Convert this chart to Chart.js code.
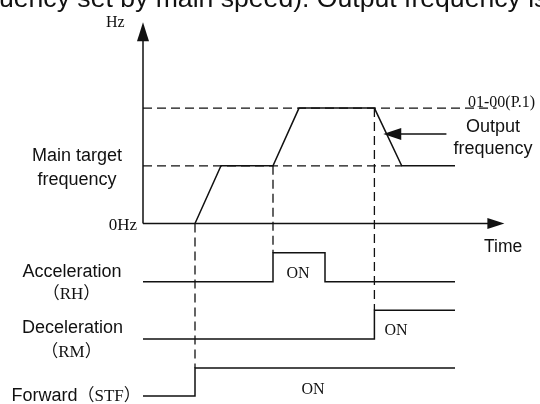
<!DOCTYPE html>
<html>
<head>
<meta charset="utf-8">
<script src="https://cdn.jsdelivr.net/npm/chart.js@4.4.0/dist/chart.umd.min.js"></script>
<style>
  html, body { margin: 0; padding: 0; background: #fff; }
  #wrap { width: 540px; height: 404px; }
</style>
</head>
<body>
<div id="wrap"><canvas id="chart" width="540" height="404"></canvas></div>
<script>
// time in arbitrary units; frequency levels: 0 = 0Hz, 1 = main target, 2 = 01-00(P.1)
const freqTime  = [2, 3, 5, 6, 8.9, 9.95, 12];
const freqLevel = [0, 1, 1, 2, 2, 1, 1];

// digital inputs, 0 = off, 1 = on
const accTime  = [0, 5, 5, 7, 7, 12];
const accLevel = [0, 0, 1, 1, 0, 0];

const decTime  = [0, 8.9, 8.9, 12];
const decLevel = [0, 0, 1, 1];

const fwdTime  = [0, 2, 2, 12];
const fwdLevel = [0, 0, 1, 1];

// dashed reference levels and where they stop
const refLevels = [2, 1];
const refEnds   = [13.6, 9.95];

const W = 540, H = 404;
const BLACK = '#111';
const SANS = "'Liberation Sans', Arial, sans-serif";
const SERIF = "'Liberation Serif', 'Times New Roman', 'Noto Sans CJK SC', serif";

function pts(xs, ys) {
    return xs.map((x, i) => ({ x: x, y: ys[i] }));
}

// scale range so that value 0 sits at pix0 and value 1 at pix1
function rangeFor(pix0, pix1, size) {
    const unit = pix0 - pix1;
    return { min: -(size - pix0) / unit, max: pix0 / unit };
}
function xRange(pix0, unit, size) {
    return { min: -pix0 / unit, max: (size - pix0) / unit };
}

const rx = xRange(143, 26, W);
const rF = rangeFor(223.5, 165.8, H);
const rA = rangeFor(281.7, 252.7, H);
const rD = rangeFor(339, 310.3, H);
const rS = rangeFor(396, 368, H);

function hiddenY(r) {
    return { type: 'linear', display: false, min: r.min, max: r.max };
}

function lineSet(data, axis, dashed) {
    return {
        data: data,
        yAxisID: axis,
        borderColor: BLACK,
        borderWidth: dashed ? 1.3 : 1.5,
        borderDash: dashed ? [9, 5] : [],
        pointRadius: 0,
        tension: 0,
        fill: false,
        clip: false
    };
}

const datasets = [];
refLevels.forEach((lvl, i) => {
    datasets.push(lineSet(pts([0, refEnds[i]], [lvl, lvl]), 'yF', true));
});
datasets.push(lineSet(pts(freqTime, freqLevel), 'yF', false));
datasets.push(lineSet(pts(accTime, accLevel), 'yA', false));
datasets.push(lineSet(pts(decTime, decLevel), 'yD', false));
datasets.push(lineSet(pts(fwdTime, fwdLevel), 'yS', false));

// vertical dashed links from the frequency trace down to the input that caused it
const links = [
    { t: 2,   from: ['yF', 0], to: ['yS', 1] },
    { t: 5,   from: ['yF', 1], to: ['yA', 1] },
    { t: 8.9, from: ['yF', 2], to: ['yD', 1] }
];

function arrowHead(ctx, x, y, dir, len, half) {
    ctx.beginPath();
    if (dir === 'up') {
        ctx.moveTo(x, y); ctx.lineTo(x - half, y + len); ctx.lineTo(x + half, y + len);
    } else if (dir === 'right') {
        ctx.moveTo(x, y); ctx.lineTo(x - len, y - half); ctx.lineTo(x - len, y + half);
    } else {
        ctx.moveTo(x, y); ctx.lineTo(x + len, y - half); ctx.lineTo(x + len, y + half);
    }
    ctx.closePath();
    ctx.fill();
}

const labels = [
    { t: 'uency set by main speed). Output frequency is', x: -1, y: 7, f: '26.6px ' + SANS, a: 'left' },
    { t: 'Hz', x: 106, y: 27, f: '16px ' + SERIF, a: 'left' },
    { t: 'Main target', x: 77, y: 161, f: '18px ' + SANS, a: 'center' },
    { t: 'frequency', x: 77, y: 185, f: '18px ' + SANS, a: 'center' },
    { t: '0Hz', x: 137, y: 230, f: '17px ' + SERIF, a: 'right' },
    { t: '01-00(P.1)', x: 468, y: 107, f: '16px ' + SERIF, a: 'left' },
    { t: 'Output', x: 493, y: 131.5, f: '18px ' + SANS, a: 'center' },
    { t: 'frequency', x: 493, y: 153.5, f: '18px ' + SANS, a: 'center' },
    { t: 'Time', x: 484, y: 251.5, f: '17.5px ' + SANS, a: 'left' },
    { t: 'Acceleration', x: 72, y: 277, f: '18px ' + SANS, a: 'center' },
    { t: '（RH）', x: 71.5, y: 299, f: '17px ' + SERIF, a: 'center' },
    { t: 'Deceleration', x: 72.5, y: 333, f: '18px ' + SANS, a: 'center' },
    { t: '（RM）', x: 71.5, y: 357, f: '17px ' + SERIF, a: 'center' },
    { t: 'Forward', x: 11.5, y: 401, f: '18px ' + SANS, a: 'left' },
    { t: 'ON', x: 298, y: 278, f: '16px ' + SERIF, a: 'center' },
    { t: 'ON', x: 396, y: 335, f: '16px ' + SERIF, a: 'center' },
    { t: 'ON', x: 313, y: 394, f: '16px ' + SERIF, a: 'center' }
];

const diagramPlugin = {
    id: 'diagram',
    afterDatasetsDraw(chart) {
        const ctx = chart.ctx;
        const sx = chart.scales.x;
        const px = v => sx.getPixelForValue(v);
        const py = (axis, v) => chart.scales[axis].getPixelForValue(v);
        ctx.save();
        ctx.strokeStyle = BLACK;
        ctx.fillStyle = BLACK;

        // vertical dashed links
        ctx.lineWidth = 1.3;
        ctx.setLineDash([9, 5]);
        links.forEach(l => {
            ctx.beginPath();
            ctx.moveTo(px(l.t), py(l.from[0], l.from[1]));
            ctx.lineTo(px(l.t), py(l.to[0], l.to[1]));
            ctx.stroke();
        });
        ctx.setLineDash([]);

        // axes with arrows
        ctx.lineWidth = 1.5;
        const x0 = px(0), y0 = py('yF', 0);
        const yTop = py('yF', 3.49), xEnd = px(13.9);
        ctx.beginPath();
        ctx.moveTo(x0, y0); ctx.lineTo(x0, yTop + 10);
        ctx.moveTo(x0, y0); ctx.lineTo(xEnd - 10, y0);
        ctx.stroke();
        arrowHead(ctx, x0, yTop, 'up', 19, 6);
        arrowHead(ctx, xEnd, y0, 'right', 17, 5.5);

        // "Output frequency" pointer
        const ay = py('yF', 1.55);
        ctx.beginPath();
        ctx.moveTo(px(11.67), ay); ctx.lineTo(px(9.24) + 10, ay);
        ctx.stroke();
        arrowHead(ctx, px(9.24), ay, 'left', 18, 6);

        // texts
        ctx.textBaseline = 'alphabetic';
        labels.forEach(l => {
            ctx.font = l.f;
            ctx.textAlign = l.a;
            ctx.fillText(l.t, l.x, l.y);
        });
        ctx.textAlign = 'left';
        ctx.font = '18px ' + SANS;
        const fw = ctx.measureText('Forward').width;
        ctx.font = '17px ' + SERIF;
        ctx.fillText('（STF）', 11.5 + fw, 401);
        ctx.restore();
    }
};

new Chart(document.getElementById('chart'), {
    type: 'line',
    data: { datasets: datasets },
    options: {
        responsive: false,
        animation: false,
        events: [],
        layout: { padding: 0 },
        plugins: { legend: { display: false }, tooltip: { enabled: false } },
        scales: {
            x: { type: 'linear', display: false, min: rx.min, max: rx.max },
            yF: hiddenY(rF),
            yA: hiddenY(rA),
            yD: hiddenY(rD),
            yS: hiddenY(rS)
        }
    },
    plugins: [diagramPlugin]
});
</script>
</body>
</html>
